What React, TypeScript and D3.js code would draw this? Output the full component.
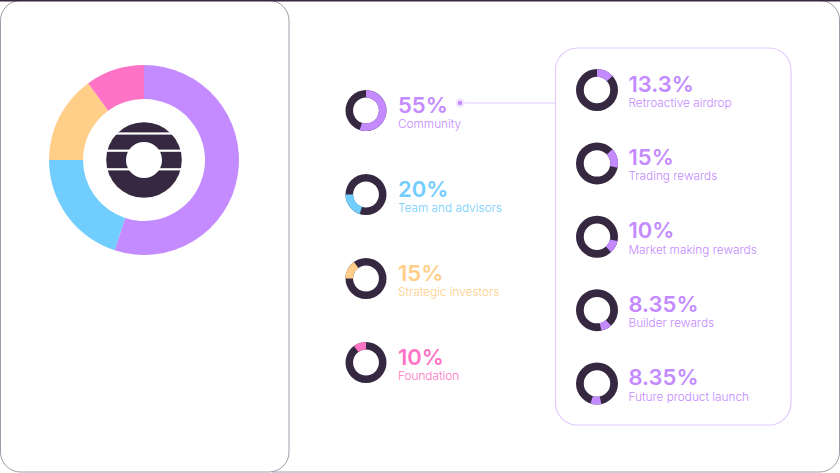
import React from 'react'
import * as d3 from 'd3'

const width = 840
const height = 473
const dark = '#352840'
const font = 'Inter, "Noto Sans", sans-serif'

const mainLabels = ['Community', 'Team and advisors', 'Strategic investors', 'Foundation']
const mainValues = [55, 20, 15, 10]
const mainColors = ['#c48aff', '#72cdff', '#ffce88', '#ff73c6']

const subLabels = ['Retroactive airdrop', 'Trading rewards', 'Market making rewards', 'Builder rewards', 'Future product launch']
const subValues = [13.3, 15, 10, 8.35, 8.35]
const subColor = '#c48aff'

const pie = d3.pie<number>().sort(null).value(d => d)

// cumulative start/end (as fractions of the whole) for each segment
const spans = (vals: number[], offset: number) => {
  let acc = offset
  return vals.map(v => {
    const s = acc
    acc += v
    return [s / 100, acc / 100]
  })
}

const MiniDonut = ({ cx, cy, r, span, color }: { cx: number; cy: number; r: number; span: number[]; color: string }) => {
  const arc = d3.arc<any>().innerRadius(r * 0.63).outerRadius(r)
  const full = arc({ startAngle: 0, endAngle: 2 * Math.PI })
  const seg = arc({ startAngle: span[0] * 2 * Math.PI, endAngle: span[1] * 2 * Math.PI })
  return (
    <g transform={`translate(${cx},${cy})`}>
      <path d={full ?? ''} fill={dark} />
      <path d={seg ?? ''} fill={color} />
    </g>
  )
}

const App = () => {
  const bigArc = d3.arc<d3.PieArcDatum<number>>().innerRadius(61).outerRadius(95)
  const arcs = pie(mainValues)

  const leftY = d3.scalePoint<number>().domain(d3.range(mainValues.length)).range([110.5, 362.5])
  const rightY = d3.scalePoint<number>().domain(d3.range(subValues.length)).range([90, 383.5])
  const mainSpans = spans(mainValues, 0)
  const subSpans = spans(subValues, 0)

  const frame = '#a09aa8'

  return (
    <div style={{ position: 'fixed', left: 0, top: 0, width, height, background: '#fff' }}>
      <svg width={width} height={height} style={{ display: 'block' }}>
        {/* frames */}
        <rect x={0.5} y={0.5} width={288.5} height={471.5} rx={20} fill="none" stroke={frame} strokeWidth={1} />
        <path d="M272,0.5 H820 A19.5,19.5 0 0 1 839.5,20 V452 A20,20 0 0 1 819.5,472 H272" fill="none" stroke={frame} strokeWidth={1} />
        <rect x={0} y={0} width={width} height={1.5} fill={dark} />

        {/* big donut */}
        <g transform="translate(144,160)">
          {arcs.map((a, i) => (
            <path key={i} d={bigArc(a) ?? ''} fill={mainColors[i]} />
          ))}
          <circle r={37.8} fill={dark} />
          <circle r={18} fill="#fff" />
          {[-26.5, -9.3, 9.3].map((dy, i) => (
            <rect key={i} x={-40} y={dy - 1.1} width={80} height={2.2} fill="#fff" />
          ))}
        </g>

        {/* left legend */}
        {mainValues.map((v, i) => {
          const y = leftY(i) as number
          return (
            <g key={i}>
              <MiniDonut cx={366} cy={y} r={20.5} span={mainSpans[i]} color={mainColors[i]} />
              <text x={398} y={y + 2} fontFamily={font} fontWeight={600} fontSize={22} fill={mainColors[i]}>{v}%</text>
              <text x={398} y={y + 17.5} fontFamily={font} fontWeight={300} fontSize={11.8} fill={mainColors[i]}>{mainLabels[i]}</text>
            </g>
          )
        })}

        {/* connector */}
        <line x1={460} y1={103} x2={555} y2={103} stroke="#e2cbff" strokeWidth={1.2} />
        <circle cx={460} cy={103} r={4.5} fill="#f1e4ff" />
        <circle cx={460} cy={103} r={2.2} fill={subColor} />

        {/* right card */}
        <rect x={555.5} y={48} width={235.5} height={377} rx={22} fill="#fff" stroke="#e2cbff" strokeWidth={1.2} />
        {subValues.map((v, i) => {
          const y = rightY(i) as number
          return (
            <g key={i}>
              <MiniDonut cx={597} cy={y} r={21} span={subSpans[i]} color={subColor} />
              <text x={628.5} y={y + 1.5} fontFamily={font} fontWeight={600} fontSize={22} fill={subColor}>{v}%</text>
              <text x={628.5} y={y + 17} fontFamily={font} fontWeight={300} fontSize={11.8} fill={subColor}>{subLabels[i]}</text>
            </g>
          )
        })}
      </svg>
    </div>
  )
}

export default App
